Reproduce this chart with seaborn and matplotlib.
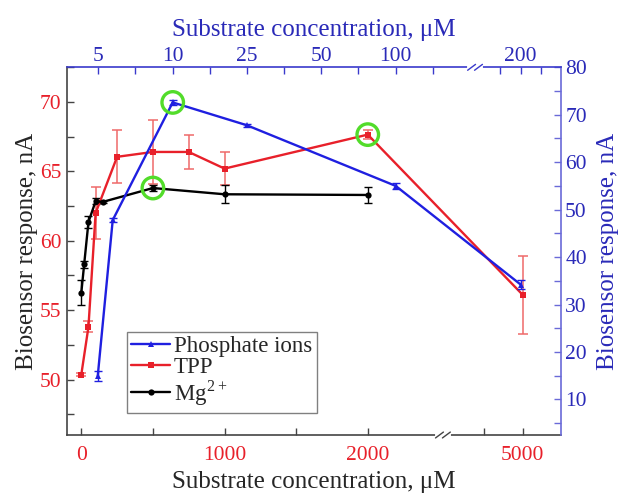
import numpy as np
import matplotlib
matplotlib.use("Agg")
import matplotlib.pyplot as plt
import seaborn as sns

# Phosphate ions: top concentration axis, right response axis
phos_conc = [5, 6, 10, 25, 100, 200]
phos_resp = [14.9, 47.8, 72.6, 67.8, 55.0, 34.2]
phos_err = [1.0, 0.5, 0.5, 0.3, 0.6, 1.0]

# TPP and Mg2+: bottom concentration axis, left response axis
tpp_conc = [0, 50, 100, 250, 500, 750, 1000, 2000, 5000]
tpp_resp = [50.35, 53.8, 62.0, 66.05, 66.4, 66.4, 65.2, 67.65, 56.1]
tpp_err = [0.1, 0.4, 1.9, 1.9, 2.3, 1.25, 1.2, 0.3, 2.8]

mg_conc = [0, 20, 50, 100, 150, 500, 1000, 2000]
mg_resp = [56.25, 58.3, 61.35, 62.85, 62.8, 63.8, 63.35, 63.3]
mg_err = [0.9, 0.25, 0.45, 0.2, 0.1, 0.2, 0.65, 0.55]

bottom_ticks = [0, 1000, 2000, 5000]
bottom_minor = [500, 1500, 4000]
top_ticks = [5, 10, 25, 50, 100, 200]
top_minor = [7.5, 17.5, 37.5, 75, 150, 180, 220]

# broken axes as piecewise linear scales
bot_knots_v = [-1000, 2500, 2900, 10000]
bot_knots_p = [-61.6, 440, 443, 714.8]
top_knots_v = [-100, 5, 10, 25, 50, 100, 150, 155.5, 200, 400]
top_knots_p = [-1477.3, 97.7, 172.7, 246.7, 321, 395.7, 433.3, 475, 520.7, 725.7]


def make_scale(kv, kp):
    fwd = lambda x: np.interp(x, kv, kp)
    inv = lambda p: np.interp(p, kp, kv)
    return fwd, inv


RED = '#e8202a'
RED_ERR = '#ef6a6a'
BLUE = '#1f1fe0'
BLUE_TXT = '#2a2ab8'
GREEN = '#52dc2a'

sns.set_style('ticks')
plt.rcParams['font.family'] = ['Liberation Serif', 'DejaVu Serif']
plt.rcParams['mathtext.fontset'] = 'custom'
plt.rcParams['mathtext.rm'] = 'Liberation Serif'

fig = plt.figure(figsize=(6.19, 4.95), dpi=100)
ax = fig.add_axes([0.1082, 0.1212, 0.7981, 0.7428])
ax2 = fig.add_axes([0.1082, 0.1212, 0.7981, 0.7428])
ax2.patch.set_visible(False)

# bottom / left
ax.errorbar(tpp_conc, tpp_resp, yerr=tpp_err, fmt='none', ecolor=RED_ERR,
            elinewidth=1.1, capsize=3.5, capthick=1.1, zorder=2)
ax.errorbar(mg_conc, mg_resp, yerr=mg_err, fmt='none', ecolor='black',
            elinewidth=1.0, capsize=3, capthick=1.0, zorder=2)
sns.lineplot(x=tpp_conc, y=tpp_resp, ax=ax, color=RED, marker='s', markersize=4,
             markeredgewidth=0, linewidth=1.7, label='TPP', zorder=3)
sns.lineplot(x=mg_conc, y=mg_resp, ax=ax, color='black', marker='o', markersize=4.5,
             markeredgewidth=0, linewidth=1.7, label='Mg$^{\\mathregular{2+}}$', zorder=3)

# top / right
ax2.errorbar(phos_conc, phos_resp, yerr=phos_err, fmt='none', ecolor=BLUE,
             elinewidth=1.0, capsize=3, capthick=1.0, zorder=2)
sns.lineplot(x=phos_conc, y=phos_resp, ax=ax2, color=BLUE, marker='^', markersize=5,
             markeredgewidth=0, linewidth=1.7, label='Phosphate ions', zorder=3)

# highlight maxima
i = int(np.argmax(phos_resp))
ax2.scatter([phos_conc[i]], [phos_resp[i]], s=240, facecolors='none',
            edgecolors=GREEN, linewidths=2.4, zorder=6)
for xs, ys in [(tpp_conc, tpp_resp), (mg_conc, mg_resp)]:
    j = int(np.argmax(ys))
    ax.scatter([xs[j]], [ys[j]], s=240, facecolors='none',
               edgecolors=GREEN, linewidths=2.4, zorder=6)

ax.set_xscale('function', functions=make_scale(bot_knots_v, bot_knots_p))
ax2.set_xscale('function', functions=make_scale(top_knots_v, top_knots_p))
ax.set_xlim(-100, 6000)
ax2.set_xlim(2.95, 239.3)
ax.set_ylim(46, 72.5)
ax2.set_ylim(2.5, 80)

ax.set_xticks(bottom_ticks)
ax.set_xticks(bottom_minor, minor=True)
ax.set_xticklabels([str(t) for t in bottom_ticks])
ax.set_yticks([50, 55, 60, 65, 70])
ax.set_yticks([47.5, 52.5, 57.5, 62.5, 67.5, 72.5], minor=True)

ax2.xaxis.tick_top()
ax2.xaxis.set_label_position('top')
ax2.yaxis.tick_right()
ax2.yaxis.set_label_position('right')
ax2.set_xticks(top_ticks)
ax2.set_xticks(top_minor, minor=True)
ax2.set_xticklabels([str(t) for t in top_ticks])
ax2.set_yticks(range(10, 81, 10))
ax2.set_yticks(range(5, 80, 10), minor=True)

for s in ['top', 'right']:
    ax.spines[s].set_visible(False)
for s in ['bottom', 'left']:
    ax2.spines[s].set_visible(False)
for s in ['bottom', 'left']:
    ax.spines[s].set_color('#444444')
    ax.spines[s].set_linewidth(1.2)
ax2.spines['top'].set_color('#3a3acc')
ax2.spines['right'].set_color('#6a6ad8')
for s in ['top', 'right']:
    ax2.spines[s].set_linewidth(1.2)

ax.tick_params(axis='x', which='both', direction='in', length=5, width=1,
               colors='#444444', labelcolor=RED, labelsize=15.5, pad=8)
ax.tick_params(axis='y', which='both', direction='in', length=5, width=1,
               colors='#444444', labelcolor=RED, labelsize=15.5, pad=4)
ax2.tick_params(axis='x', which='both', direction='in', length=5, width=1,
                colors='#3a3acc', labelcolor=BLUE_TXT, labelsize=15.5, pad=1)
ax2.tick_params(axis='y', which='both', direction='in', length=5, width=1,
                colors='#6a6ad8', labelcolor=BLUE_TXT, labelsize=15.5, pad=3)

ax.set_xlabel('Substrate concentration, μM', fontsize=18, labelpad=4)
ax.set_ylabel('Biosensor response, nA', fontsize=18, labelpad=1)
ax2.set_xlabel('Substrate concentration, μM', fontsize=18, color=BLUE_TXT, labelpad=8)
ax2.set_ylabel('Biosensor response, nA', fontsize=18, color=BLUE_TXT, labelpad=7)

# axis break marks
for a, xb, yb, col in [(ax, 0.761, 0.0, '#444444'), (ax2, 0.826, 1.0, '#3a3acc')]:
    a.plot([xb - 0.012, xb + 0.012], [yb, yb], transform=a.transAxes,
           color='white', lw=3, clip_on=False, zorder=7)
    for dx in (-0.007, 0.007):
        a.plot([xb + dx - 0.008, xb + dx + 0.008], [yb - 0.008, yb + 0.008],
               transform=a.transAxes, color=col, lw=1, clip_on=False, zorder=8)

for a in (ax, ax2):
    if a.get_legend() is not None:
        a.get_legend().remove()

h2, l2 = ax2.get_legend_handles_labels()
h1, l1 = ax.get_legend_handles_labels()
leg = ax2.legend(h2 + h1, l2 + l1, loc='upper left', bbox_to_anchor=(0.121, 0.281),
                 borderaxespad=0, fontsize=16.5, frameon=True, fancybox=False,
                 edgecolor='#808080', framealpha=1, handlelength=1.7,
                 handletextpad=0.15, labelspacing=0.0, borderpad=0.2)
leg.get_frame().set_linewidth(1.0)

fig.savefig('out.png', dpi=100)
